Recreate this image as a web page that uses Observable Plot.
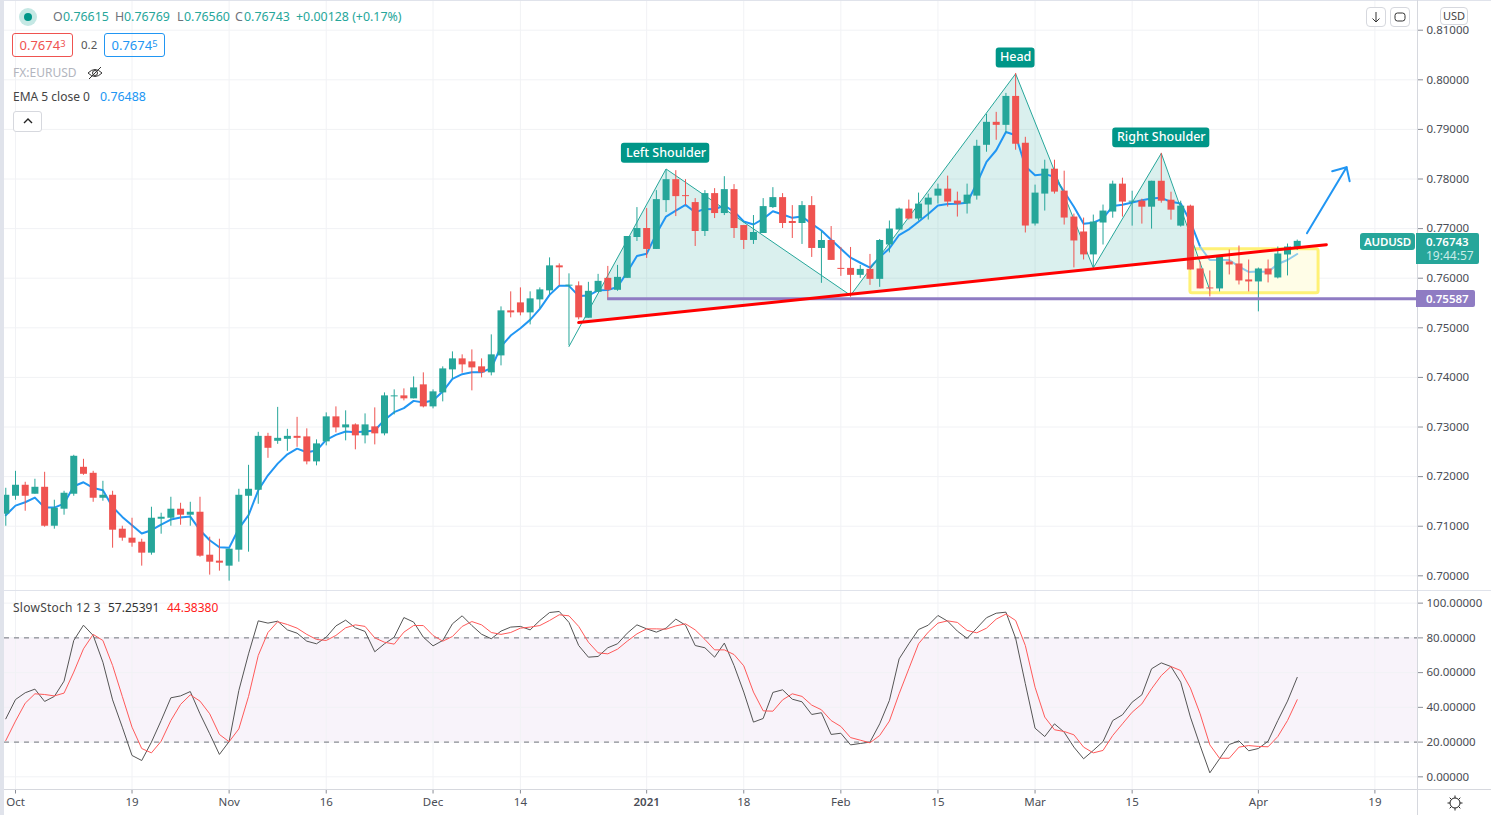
<!DOCTYPE html>
<html>
<head>
<meta charset="utf-8">
<script src="https://cdn.jsdelivr.net/npm/d3@7"></script>
<script src="https://cdn.jsdelivr.net/npm/@observablehq/plot@0.6"></script>
<style>
html,body{margin:0;padding:0;background:#fff;width:1491px;height:815px;overflow:hidden;font-family:"Noto Sans",sans-serif}
#app{position:relative;width:1491px;height:815px;overflow:hidden}
#app svg.plot{position:absolute;left:0}
.abs{position:absolute;white-space:nowrap;line-height:1}
.box{position:absolute;box-sizing:border-box;border-radius:3px}
sup{font-size:.72em;vertical-align:baseline;position:relative;top:-.35em}
.g{color:#26a69a}.m{color:#6f727b}
.hdr{position:absolute;top:11px;font-size:12.4px;line-height:1;white-space:nowrap}
</style>
</head>
<body>
<div id="app"></div>
<script>
const firstIndex = -1;
const opens  = [.71242,.71604,.71826,.71645,.71785,.71000,.71343,.71645,.72188,.72067,.71564,.71624,.70940,.70759,.70678,.70457,.71141,.71161,.71343,.71222,.71282,.70416,.70296,.70195,.70517,.71604,.71725,.72812,.72712,.72752,.72812,.72801,.72297,.72701,.73205,.72983,.73043,.72822,.73003,.72862,.73608,.73628,.73568,.73850,.73406,.73688,.74152,.74374,.74313,.74213,.74092,.74434,.75342,.75503,.75301,.75563,.75745,.76249,.75840,.75846,.75193,.75716,.75997,.75756,.75997,.76821,.77002,.76580,.77565,.77987,.77665,.77525,.76942,.77706,.77304,.77786,.77062,.76761,.76902,.77424,.77625,.77143,.77103,.77464,.76600,.76761,.76198,.76198,.76058,.76178,.75977,.76670,.76972,.77394,.77193,.77475,.77655,.77796,.77555,.77495,.77655,.78680,.79143,.79082,.79665,.78721,.77093,.77696,.78198,.77756,.77233,.76932,.76470,.77113,.77334,.77897,.77533,.77553,.77432,.77955,.77573,.77050,.77453,.76186,.75804,.75784,.76327,.76287,.75965,.75925,.76186,.76005,.76468,.76615];
const highs  = [.71765,.72107,.71886,.71947,.72087,.71524,.71705,.72430,.72349,.72107,.71906,.71705,.71000,.71161,.70738,.71383,.71262,.71584,.71463,.71483,.71584,.70779,.70738,.70537,.71745,.72228,.72893,.72873,.73396,.72953,.73195,.72963,.72741,.73285,.73406,.73326,.73064,.73265,.73386,.73688,.73749,.73769,.74011,.74092,.73749,.74213,.74515,.74455,.74555,.74374,.74858,.75422,.75725,.75805,.75725,.75805,.76410,.76289,.76088,.75926,.75917,.76078,.76238,.76258,.76841,.77424,.77404,.77766,.78188,.78168,.77987,.77605,.77766,.77806,.78047,.77887,.77062,.77264,.77605,.77826,.77706,.77464,.77545,.77645,.76942,.77042,.76620,.76620,.76258,.76480,.76781,.77153,.77414,.77575,.77716,.77696,.77897,.78058,.77736,.77897,.78781,.79304,.79344,.79726,.80128,.78841,.77877,.78379,.78379,.78158,.77294,.77213,.77273,.77475,.77957,.78017,.77754,.77593,.77955,.78518,.77734,.77553,.77473,.76327,.76146,.76448,.76568,.76649,.76367,.76206,.76367,.76629,.76689,.76769];
const lows   = [.71000,.71524,.71302,.71645,.70980,.70940,.71222,.71604,.72027,.71483,.71504,.70557,.70698,.70577,.70195,.70416,.70839,.71000,.71020,.71000,.70376,.70014,.70094,.69893,.70275,.70477,.71443,.72369,.72651,.72510,.72591,.72237,.72217,.72620,.72882,.72721,.72540,.72660,.72640,.72822,.73245,.73527,.73568,.73386,.73366,.73507,.73971,.74085,.73729,.73991,.74031,.74233,.75201,.75241,.75059,.75382,.75664,.75846,.74636,.75160,.75193,.75716,.75555,.75736,.75997,.76741,.76399,.76580,.77324,.77243,.77464,.76640,.76841,.77203,.77263,.76801,.76580,.76681,.76902,.77404,.77002,.76801,.76681,.76419,.75897,.76359,.76037,.75615,.75997,.75856,.75816,.76510,.76972,.77173,.77153,.77173,.77495,.77434,.77233,.77294,.77575,.78540,.78781,.78922,.78580,.76912,.77052,.77354,.77696,.77072,.76208,.76368,.76208,.76670,.77210,.77233,.77050,.77091,.76990,.77513,.77171,.77030,.76166,.75784,.75623,.75724,.76066,.75864,.75724,.75322,.75905,.75985,.76046,.76560];
const closes = [.71624,.71826,.71604,.71785,.71000,.71363,.71665,.72410,.72047,.71564,.71624,.70920,.70759,.70658,.70457,.71161,.71181,.71343,.71222,.71282,.70396,.70275,.70255,.70537,.71624,.71745,.72812,.72571,.72772,.72812,.72772,.72297,.72660,.73205,.72983,.73043,.72822,.73043,.72862,.73628,.73628,.73568,.73789,.73406,.73709,.74172,.74374,.74253,.74192,.74092,.74455,.75342,.75301,.75301,.75584,.75765,.76249,.76209,.75860,.75201,.75736,.75937,.75756,.76017,.76841,.77002,.76580,.77585,.77987,.77645,.77645,.76942,.77706,.77304,.77786,.77002,.76761,.76922,.77444,.77625,.77103,.77103,.77464,.76600,.76761,.76359,.76178,.76058,.76178,.75977,.76761,.76992,.77394,.77193,.77495,.77615,.77796,.77535,.77495,.77675,.78660,.79143,.79082,.79665,.78701,.77052,.77716,.78198,.77736,.77213,.76751,.76470,.77133,.77354,.77897,.77535,.77553,.77432,.77955,.77553,.77372,.77453,.76166,.75784,.75784,.76427,.76267,.75945,.75925,.76186,.76066,.76488,.76629,.76743];
const ema    = [.71222,.71416,.71483,.71577,.71376,.71376,.71457,.71806,.71886,.71772,.71725,.71389,.71188,.71020,.70853,.70920,.71034,.71135,.71175,.71195,.70920,.70718,.70577,.70564,.70953,.71222,.71725,.72027,.72262,.72450,.72564,.72492,.72526,.72741,.72842,.72909,.72896,.72909,.72929,.73144,.73299,.73380,.73527,.73494,.73534,.73715,.73971,.74065,.74105,.74105,.74186,.74623,.74844,.74992,.75160,.75382,.75664,.75846,.75846,.75644,.75651,.75756,.75763,.75823,.76125,.76446,.76493,.76895,.77243,.77364,.77478,.77330,.77397,.77391,.77465,.77344,.77143,.77083,.77197,.77351,.77284,.77217,.77243,.77096,.76962,.76774,.76593,.76413,.76312,.76212,.76426,.76600,.76871,.76985,.77139,.77294,.77468,.77495,.77501,.77521,.77910,.78346,.78580,.78949,.78882,.78258,.78078,.78098,.78044,.77743,.77441,.77099,.77119,.77207,.77455,.77481,.77526,.77573,.77607,.77620,.77540,.77506,.77138,.76635,.76367,.76367,.76367,.76233,.76126,.76133,.76126,.76287,.76367,.76488];
const stochK = [33.4,44.5,48.4,50.5,43.4,46.3,55.1,78.5,87.3,81.4,66.0,44.3,28.6,12.3,9.4,20.0,32.4,45.5,46.6,49.1,36.3,24.8,12.9,20.3,49.7,70.8,89.8,88.5,89.6,84.6,82.7,78.1,76.6,80.4,86.9,90.2,85.8,83.7,72.0,76.6,80.4,91.7,89.1,80.4,75.4,78.5,88.1,92.7,87.1,82.1,79.5,83.9,86.2,86.6,84.6,90.0,94.6,95.2,88.9,75.6,68.9,69.3,74.3,76.6,82.7,87.5,85.2,83.3,85.6,90.8,87.3,75.6,74.3,68.9,77.0,64.1,48.8,31.5,33.6,48.6,50.1,44.7,43.2,35.9,36.9,24.4,25.1,18.4,19.2,20.0,30.5,44.0,67.9,76.6,84.8,87.3,92.9,89.6,83.9,79.7,85.6,91.6,94.2,94.8,79.8,53.6,28.0,23.2,30.5,25.7,17.1,10.4,15.2,20.3,32.4,35.7,43.0,47.2,62.2,65.6,63.5,54.5,34.4,18.0,2.3,10.4,18.6,20.7,15.0,16.3,20.5,32.4,43.6,57.25];
const stochD = [20.9,32.1,42.4,47.8,47.4,46.6,48.2,60.3,73.7,82.0,78.5,64.1,46.3,28.6,16.3,13.8,20.5,32.4,41.7,47.2,43.6,36.3,24.4,20.2,27.6,46.3,69.9,83.1,89.3,87.7,85.6,82.0,79.1,78.5,81.4,85.8,87.5,86.6,80.0,77.5,76.4,83.3,87.1,87.1,81.4,78.1,80.8,86.6,89.4,87.5,83.1,82.0,83.1,85.6,86.2,87.1,90.0,93.3,92.7,86.6,77.5,71.4,70.8,73.5,78.1,82.3,85.2,85.2,85.0,86.9,88.1,84.6,79.1,73.1,73.1,70.4,63.9,48.8,38.0,37.8,44.3,47.8,46.3,41.3,38.6,32.4,29.0,22.6,21.1,19.6,23.8,32.1,47.8,62.2,76.6,83.3,88.5,89.8,88.9,84.3,82.9,85.6,90.8,93.7,90.0,75.6,51.6,34.4,27.1,26.1,24.2,17.1,13.8,15.2,23.8,30.5,37.2,42.0,50.7,58.3,63.5,61.2,51.1,36.3,18.4,10.7,10.7,17.1,18.0,17.5,17.3,23.2,32.4,44.38];

const timeTicks  = [0,12,22,32,43,52,65,75,85,95,105,115,128,140];
const timeLabels = ["Oct","19","Nov","16","Dec","14","2021","18","Feb","15","Mar","15","Apr","19"];
const priceTicks = [.70,.71,.72,.73,.74,.75,.76,.77,.78,.79,.80,.81];
const stochTicks = [0,20,40,60,80,100];

const patternIdx   = [57,67,86,103,111,118,123];
const patternPrice = [.74623,.78202,.75655,.80121,.76208,.78518,.7576];
const fillIdx      = [58.4,67,86,103,111,118,121.7];
const fillPrice    = [.7513,.78202,.75655,.80121,.76208,.78518,.76397];
const trendIdx     = [58,135];
const trendPrice   = [.75107,.76677];
const supportPrice = .75587;
const supportStart = 61;
const zoneIdx      = [121,134.2];
const zonePrice    = [.75698,.76585];
const arrowIdx     = [133.0,137.08];
const arrowPrice   = [.76907,.78238];
const arrowHeadIdx   = [135.6,137.08,137.4];
const arrowHeadPrice = [.78157,.78238,.77956];
const labelNames = ["Left Shoulder","Head","Right Shoulder"];
const labelIdx   = [67,103,118];
const labelPrice = [.7852,.8045,.7884];
const labelIdx1  = [62.4,101,113];
const labelIdx2  = [71.5,105,123];
const labelLow   = [.7832,.8024,.7863];
const labelHigh  = [.7872,.8064,.7903];

const GREEN="#26a69a", RED="#ef5350", BLUE="#2196f3", GRID="#f1f2f5", LABEL="#009688", PURPLE="#8f7cc3";
const FONT='"Noto Sans",sans-serif';
const xDomain=[-1.133,144.387];

const bars = opens.map((o,k)=>({i:k+firstIndex,o,h:highs[k],l:lows[k],c:closes[k],e:ema[k],k:stochK[k],d:stochD[k]}));
const col = d=>d.c>=d.o?GREEN:RED;
const pts=(xs,ys)=>xs.map((x,k)=>({x,y:ys[k]}));
const labels=labelNames.map((t,k)=>({t,x:labelIdx[k],y:labelPrice[k],x1:labelIdx1[k],x2:labelIdx2[k],y1:labelLow[k],y2:labelHigh[k]}));

const main = Plot.plot({
  width:1491,height:591,marginLeft:4,marginRight:74,marginTop:0,marginBottom:0,
  style:{background:"transparent",fontFamily:FONT,fontSize:"11.5px",color:"#4a4d55"},
  x:{domain:xDomain,axis:null,label:null},
  y:{domain:[.69684,.81599],axis:null,label:null},
  marks:[
    Plot.gridX(timeTicks,{stroke:GRID,strokeOpacity:1}),
    Plot.gridY(priceTicks,{stroke:GRID,strokeOpacity:1}),
    Plot.rect([0],{x1:()=>zoneIdx[0],x2:()=>zoneIdx[1],y1:()=>zonePrice[0],y2:()=>zonePrice[1],fill:"#fffde7",stroke:"#fff176",strokeWidth:3,r:2}),
    Plot.line(pts(fillIdx,fillPrice),{x:"x",y:"y",fill:"#26a69a",fillOpacity:.17,stroke:"none"}),
    Plot.line(bars.filter(d=>d.i<=122),{x:"i",y:"e",stroke:BLUE,strokeWidth:2}),
    Plot.line(bars.filter(d=>d.i>=122),{x:"i",y:"e",stroke:"#8fcbeb",strokeWidth:2}),
    Plot.line(pts(patternIdx,patternPrice),{x:"x",y:"y",stroke:"#26a69a",strokeWidth:1}),
    Plot.ruleX(bars,{x:"i",y1:"l",y2:"h",stroke:col,strokeWidth:1}),
    Plot.ruleX(bars,{x:"i",y1:"o",y2:"c",stroke:col,strokeWidth:7}),
    Plot.ruleY([supportPrice],{x1:supportStart,x2:xDomain[1],stroke:PURPLE,strokeWidth:3}),
    Plot.line(pts(trendIdx,trendPrice),{x:"x",y:"y",stroke:"#ff0000",strokeWidth:3}),
    Plot.line(pts(arrowIdx,arrowPrice),{x:"x",y:"y",stroke:BLUE,strokeWidth:2}),
    Plot.line(pts(arrowHeadIdx,arrowHeadPrice),{x:"x",y:"y",stroke:BLUE,strokeWidth:2}),
    Plot.rect(labels,{x1:"x1",x2:"x2",y1:"y1",y2:"y2",fill:LABEL,r:3}),
    Plot.text(labels,{x:"x",y:"y",text:"t",fill:"#fff",fontSize:12.5,fontWeight:500}),
    Plot.axisY(priceTicks,{anchor:"right",tickFormat:d3.format(".5f"),tickSize:5,tickPadding:4,label:null,stroke:"#8a8d96"})
  ]
});
const osc = Plot.plot({
  width:1491,height:224,marginLeft:4,marginRight:74,marginTop:0,marginBottom:25.5,
  style:{background:"transparent",fontFamily:FONT,fontSize:"11.5px",color:"#4a4d55"},
  x:{domain:xDomain,label:null},
  y:{domain:[-7.58,106.7],label:null},
  marks:[
    Plot.rect([0],{x1:()=>xDomain[0],x2:()=>xDomain[1],y1:()=>20,y2:()=>80,fill:"#f8f3fa"}),
    Plot.gridX(timeTicks,{stroke:GRID,strokeOpacity:1}),
    Plot.gridY(stochTicks,{stroke:GRID,strokeOpacity:1}),
    Plot.ruleY([20,80],{stroke:"#6f727b",strokeDasharray:"5 5",strokeWidth:1}),
    Plot.line(bars,{x:"i",y:"k",stroke:"#555555",strokeWidth:1}),
    Plot.line(bars,{x:"i",y:"d",stroke:"#ff5a5a",strokeWidth:1}),
    Plot.axisY(stochTicks,{anchor:"right",tickFormat:d3.format(".5f"),tickSize:5,tickPadding:4,label:null,stroke:"#8a8d96"}),
    Plot.axisX(timeTicks,{anchor:"bottom",tickFormat:d=>timeLabels[timeTicks.indexOf(d)],tickSize:4,tickPadding:4,label:null,stroke:"#8a8d96"})
  ]
});
main.classList.add("plot");osc.classList.add("plot");
main.style.top="0px";osc.style.top="591px";
d3.select(osc).selectAll("text").filter(function(){return this.textContent==="2021"}).attr("font-weight","600").style("font-weight",600);
const app=document.getElementById("app");
app.append(main,osc);

const overlay=`
<div class="abs" style="left:0;top:0;width:4px;height:815px;background:#e0e3eb"></div>
<div class="abs" style="left:0;top:0;width:1491px;height:1px;background:#e0e3eb"></div>
<div class="abs" style="left:4px;top:590px;width:1487px;height:1px;background:#e0e3eb"></div>
<div class="abs" style="left:4px;top:789px;width:1487px;height:1px;background:#d6d8de"></div>
<div class="abs" style="left:1417px;top:0;width:1px;height:815px;background:#d6d8de"></div>

<svg class="abs" style="left:18px;top:7px" width="20" height="20"><circle cx="10" cy="10" r="9" fill="#c5e8e4"/><circle cx="10" cy="10" r="4" fill="#009688"/></svg>
<span class="hdr m" style="left:53px">O</span><span class="hdr g" style="left:63px">0.76615</span>
<span class="hdr m" style="left:115px">H</span><span class="hdr g" style="left:124px">0.76769</span>
<span class="hdr m" style="left:177px">L</span><span class="hdr g" style="left:184px">0.76560</span>
<span class="hdr m" style="left:235px">C</span><span class="hdr g" style="left:244px">0.76743</span>
<span class="hdr g" style="left:296px">+0.00128 (+0.17%)</span>
<div class="box" style="left:12px;top:33px;width:61px;height:24px;border:1px solid #ef5350;color:#ef5350;font-size:13px;text-align:center;line-height:22px">0.7674<sup>3</sup></div>
<div class="abs" style="left:81px;top:39px;font-size:11.5px;color:#555">0.2</div>
<div class="box" style="left:104px;top:33px;width:61px;height:24px;border:1px solid #2196f3;color:#2196f3;font-size:13px;text-align:center;line-height:22px">0.7674<sup>5</sup></div>
<div class="abs" style="left:13px;top:67px;font-size:12px;color:#b2b5be">FX:EURUSD</div>
<svg class="abs" style="left:86px;top:65px" width="18" height="16"><path d="M2 8 Q9 1 16 8 Q9 15 2 8Z" fill="none" stroke="#333" stroke-width="1"/><circle cx="9" cy="8" r="2.5" fill="none" stroke="#333"/><path d="M3 14 L15 2" stroke="#333"/></svg>
<div class="abs" style="left:13px;top:91px;font-size:12px;color:#444">EMA 5 close 0</div>
<div class="abs" style="left:100px;top:91px;font-size:12.4px;color:#2196f3">0.76488</div>
<div class="box" style="left:13px;top:111px;width:29px;height:21px;border:1px solid #d6d8de;background:#fff"></div>
<svg class="abs" style="left:22px;top:117px" width="12" height="8"><path d="M2 6 L6 2 L10 6" fill="none" stroke="#222" stroke-width="1.4"/></svg>
<div class="abs" style="left:13px;top:602px;font-size:12px;letter-spacing:.25px;color:#444">SlowStoch 12 3</div>
<div class="abs" style="left:108px;top:602px;font-size:12px;color:#333">57.25391</div>
<div class="abs" style="left:167px;top:602px;font-size:12px;color:#ff2020">44.38380</div>

<div class="box" style="left:1366px;top:7px;width:20px;height:20px;border:1px solid #d6d8de;background:#fff;border-radius:4px"></div>
<svg class="abs" style="left:1370px;top:11px" width="12" height="12"><path d="M6 1 V11 M2.5 7.5 L6 11 L9.5 7.5" fill="none" stroke="#333"/></svg>
<div class="box" style="left:1390px;top:7px;width:20px;height:20px;border:1px solid #d6d8de;background:#fff;border-radius:4px"></div>
<svg class="abs" style="left:1394px;top:11px" width="12" height="12"><rect x="1" y="2" width="10" height="8" rx="2.5" fill="none" stroke="#333"/></svg>
<div class="box" style="left:1440px;top:7px;width:28px;height:18px;border:1px solid #d6d8de;background:#fff;border-radius:4px;font-size:11px;color:#444;text-align:center;line-height:16px">USD</div>

<div class="box" style="left:1360px;top:233px;width:55px;height:17px;background:#26a69a;color:#fff;font-size:11.5px;font-weight:600;text-align:center;line-height:17px;letter-spacing:-.2px">AUDUSD</div>
<div class="box" style="left:1416px;top:233px;width:63px;height:31px;background:#26a69a;border-radius:0 2px 2px 0"></div>
<div class="abs" style="left:1426px;top:236px;font-size:11.5px;font-weight:600;color:#fff">0.76743</div>
<div class="abs" style="left:1426px;top:250px;font-size:12px;color:#c9ece8">19:44:57</div>
<div class="box" style="left:1416px;top:290px;width:59px;height:17px;background:#8f7cc3;border-radius:0 2px 2px 0;color:#fff;font-size:11.5px;font-weight:600;line-height:17px;padding-left:10px">0.75587</div>

<svg class="abs" style="left:1446px;top:794px" width="18" height="18"><circle cx="9" cy="9" r="5" fill="none" stroke="#222"/><path d="M9 1.5V4M9 14v2.5M1.5 9H4M14 9h2.5M3.7 3.7l1.8 1.8M12.5 12.5l1.8 1.8M14.3 3.7l-1.8 1.8M5.5 12.5l-1.8 1.8" stroke="#222"/></svg>
`;
app.insertAdjacentHTML("beforeend",overlay);
</script>
</body>
</html>
